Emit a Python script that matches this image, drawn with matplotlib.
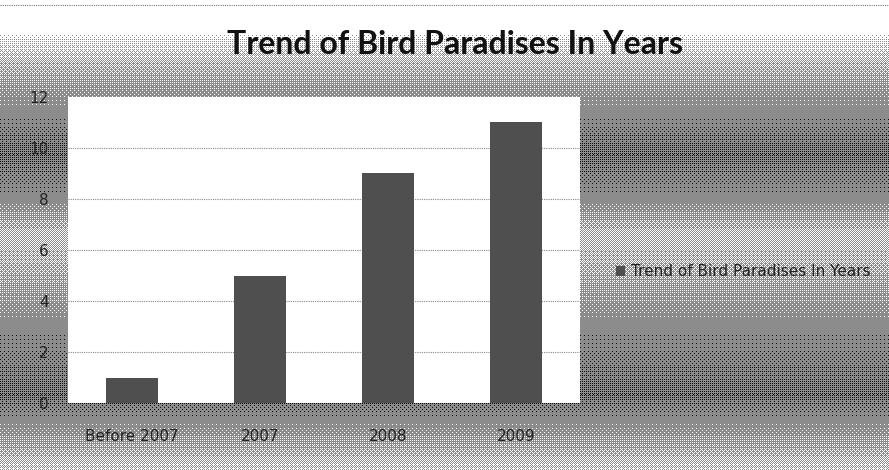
import numpy as np
import matplotlib
matplotlib.use('Agg')
import matplotlib.pyplot as plt
from matplotlib.lines import Line2D

categories = ['Before 2007', '2007', '2008', '2009']
values = [1, 5, 9, 11]
yticks = [0, 2, 4, 6, 8, 10, 12]
series_name = 'Trend of Bird Paradises In Years'

W, H = 889, 470
fig = plt.figure(figsize=(W / 100, H / 100), dpi=100)

# background: vertical grey gradient, ordered-dithered like the scan
ys = np.arange(H)
ctrl_y = [0, 28, 40, 65, 100, 155, 200, 235, 270, 320, 395, 430, 469]
ctrl_d = [0.0, 0.0, 0.12, 0.3, 0.48, 0.66, 0.5, 0.25, 0.33, 0.5, 0.66, 0.45, 0.22]
dark = np.interp(ys, ctrl_y, ctrl_d)[:, None] * np.ones((1, W))
bayer = np.array([[0, 8, 2, 10], [12, 4, 14, 6], [3, 11, 1, 9], [15, 7, 13, 5]]) / 16.0
thr = np.tile(bayer, (H // 4 + 1, W // 4 + 1))[:H, :W]
idx = np.clip(np.floor(dark * 2 + thr), 0, 2).astype(int)
levels = np.array([1.0, 0.55, 0.05])
bg = levels[idx]
bg[:30, :] = 1.0

bg_ax = fig.add_axes([0, 0, 1, 1], zorder=-1)
bg_ax.imshow(bg, cmap='gray', vmin=0, vmax=1, aspect='auto', interpolation='nearest')
bg_ax.axis('off')
fig.add_artist(Line2D([0, 1], [1 - 5 / H, 1 - 5 / H], transform=fig.transFigure,
                      color='#777777', lw=0.8, ls=(0, (1, 1))))

ax = fig.add_axes([68 / W, 1 - 403 / H, (580 - 68) / W, (403 - 97) / H])
ax.set_facecolor('white')
x = np.arange(len(categories))
ax.bar(x, values, width=0.41, color='#4f4f4f', zorder=3, label=series_name)
ax.set_xlim(-0.5, len(categories) - 0.5)
ax.set_ylim(0, 12)
ax.set_yticks(yticks)
ax.set_xticks(x)
ax.set_xticklabels(categories)
for v in yticks[1:-1]:
    ax.axhline(v, color='#888888', lw=0.8, ls=(0, (1, 1)), zorder=1)
for s in ax.spines.values():
    s.set_visible(False)
ax.tick_params(length=0, labelsize=11, colors='#222222')
ax.tick_params(axis='y', pad=14)
ax.tick_params(axis='x', pad=19)

fig.text(455 / W, 1 - 45 / H, 'Trend of Bird Paradises In Years', ha='center', va='center',
         fontsize=23, fontweight='bold', family='Lato', color='#111111')

ax.legend(loc='center left', bbox_to_anchor=(602 / W, 1 - 272 / H), bbox_transform=fig.transFigure,
          frameon=False, handlelength=0.6, handleheight=0.6, handletextpad=0.4,
          prop={'size': 11}, labelcolor='#222222')

fig.savefig('out.png', dpi=100)
